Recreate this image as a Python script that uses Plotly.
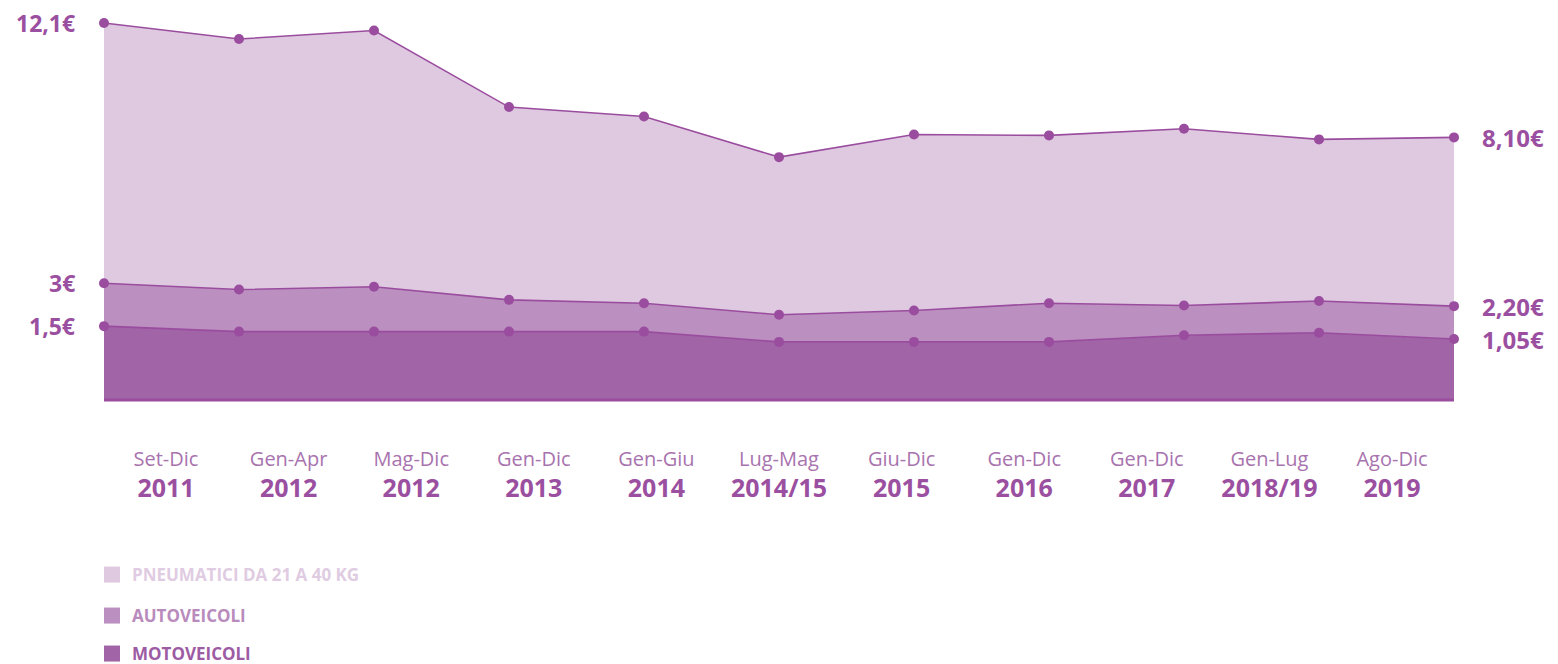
import plotly.graph_objects as go

# ---------------- data ----------------
PERIODS = ["Set-Dic", "Gen-Apr", "Mag-Dic", "Gen-Dic", "Gen-Giu", "Lug-Mag",
           "Giu-Dic", "Gen-Dic", "Gen-Dic", "Gen-Lug", "Ago-Dic"]
YEARS = ["2011", "2012", "2012", "2013", "2014", "2014/15",
         "2015", "2016", "2017", "2018/19", "2019"]

PNEUMATICI = [12.1, 11.54, 11.84, 9.16, 8.83, 7.41, 8.2, 8.17, 8.4, 8.03, 8.10]
AUTOVEICOLI = [3.0, 2.78, 2.88, 2.42, 2.3, 1.9, 2.05, 2.3, 2.22, 2.38, 2.20]
MOTOVEICOLI = [1.5, 1.31, 1.31, 1.31, 1.31, 0.95, 0.95, 0.95, 1.18, 1.27, 1.05]

SERIES_NAMES = ["PNEUMATICI DA 21 A 40 KG", "AUTOVEICOLI", "MOTOVEICOLI"]
START_LABELS = ["12,1€", "3€", "1,5€"]
END_LABELS = ["8,10€", "2,20€", "1,05€"]

# ---------------- style ----------------
W, H = 1558, 664
LINE = "#9a4d9e"
FILLS = ["#dfc9e1", "#bb8fbf", "#a064a7"]
LEGEND_TEXT = ["#e0cce2", "#b98bbd", "#9d5ba3"]
PERIOD_COLOR = "#a873ae"
YEAR_COLOR = "#9b4fa0"
FONT = "Open Sans"

M_TOP, M_BOT = 10, 261          # plot area 10 .. 403
PX_PER_UNIT = 28.6
TOP_PX = 23                      # pixel of the first (max) point
PLOT_TOP, PLOT_BOT = M_TOP, H - M_BOT
FLOOR_PX = 400
y_max = PNEUMATICI[0] + (TOP_PX - PLOT_TOP) / PX_PER_UNIT
y_min = PNEUMATICI[0] - (PLOT_BOT - TOP_PX) / PX_PER_UNIT
floor_val = PNEUMATICI[0] - (FLOOR_PX - TOP_PX) / PX_PER_UNIT

# x placement
X0_PX, DX_PX = 104, 135
LAB0_PX, DLAB_PX = 166, 122.6
x_range = [-X0_PX / DX_PX, (W - X0_PX) / DX_PX]
x2_range = [-LAB0_PX / DLAB_PX, (W - LAB0_PX) / DLAB_PX]

xs = list(range(len(PERIODS)))

fig = go.Figure()

# baseline
fig.add_trace(go.Scatter(
    x=xs, y=[floor_val] * len(xs), mode="lines",
    line=dict(color=LINE, width=3), showlegend=False, hoverinfo="skip"))

# areas (each filled down to the series below)
for vals, fill in zip([MOTOVEICOLI, AUTOVEICOLI, PNEUMATICI], FILLS[::-1]):
    fig.add_trace(go.Scatter(
        x=xs, y=vals, mode="lines+markers", fill="tonexty", fillcolor=fill,
        line=dict(color=LINE, width=1.6), marker=dict(color=LINE, size=10),
        showlegend=False, hoverinfo="skip"))

# legend entries (square swatches)
legend_ids = ["legend", "legend2", "legend3"]
for name, fill, lid in zip(SERIES_NAMES, FILLS, legend_ids):
    fig.add_trace(go.Scatter(
        x=[None], y=[None], xaxis="x2", mode="markers", name=name,
        marker=dict(symbol="square", size=16, color=fill),
        showlegend=True, legend=lid))
# anchor trace for the year axis
fig.add_trace(go.Scatter(x=[None], y=[None], xaxis="x3", mode="markers",
                         showlegend=False, hoverinfo="skip"))

# value labels at start and end
for vals, s_lab, e_lab in zip([PNEUMATICI, AUTOVEICOLI, MOTOVEICOLI],
                              START_LABELS, END_LABELS):
    fig.add_annotation(x=xs[0], y=vals[0], text=f"<b>{s_lab}</b>",
                       showarrow=False, xanchor="right", xshift=-27,
                       font=dict(family=FONT, size=23, color=YEAR_COLOR))
    fig.add_annotation(x=xs[-1], y=vals[-1], text=f"<b>{e_lab}</b>",
                       showarrow=False, xanchor="left", xshift=26,
                       font=dict(family=FONT, size=24, color=YEAR_COLOR))

leg_y_px = [575, 616, 654]
legends = {}
for lid, ypx, col in zip(legend_ids, leg_y_px, LEGEND_TEXT):
    legends[lid] = dict(
        x=92 / W, xanchor="left",
        y=(PLOT_BOT - ypx) / (PLOT_BOT - PLOT_TOP), yanchor="middle",
        font=dict(family=FONT, size=17, color=col, weight="bold"),
        bgcolor="rgba(0,0,0,0)", itemsizing="trace")

common_lab = dict(range=x2_range, overlaying="x", anchor="y", side="bottom",
                  tickmode="array", tickvals=xs, showgrid=False,
                  zeroline=False, showline=False, ticks="", automargin=False,
                  fixedrange=True)

fig.update_layout(
    width=W, height=H,
    margin=dict(l=0, r=0, t=M_TOP, b=M_BOT, autoexpand=False),
    paper_bgcolor="white", plot_bgcolor="white",
    hovermode=False,
    xaxis=dict(range=x_range, visible=False, fixedrange=True, automargin=False),
    xaxis2=dict(**common_lab, ticktext=PERIODS, ticklabelstandoff=42,
                tickfont=dict(family=FONT, size=20, color=PERIOD_COLOR)),
    xaxis3=dict(**common_lab, ticktext=YEARS, ticklabelstandoff=68,
                tickfont=dict(family=FONT, size=25, color=YEAR_COLOR,
                              weight="bold")),
    yaxis=dict(range=[y_min, y_max], visible=False, fixedrange=True,
               automargin=False),
    **legends,
)

fig.write_html("out.html")
